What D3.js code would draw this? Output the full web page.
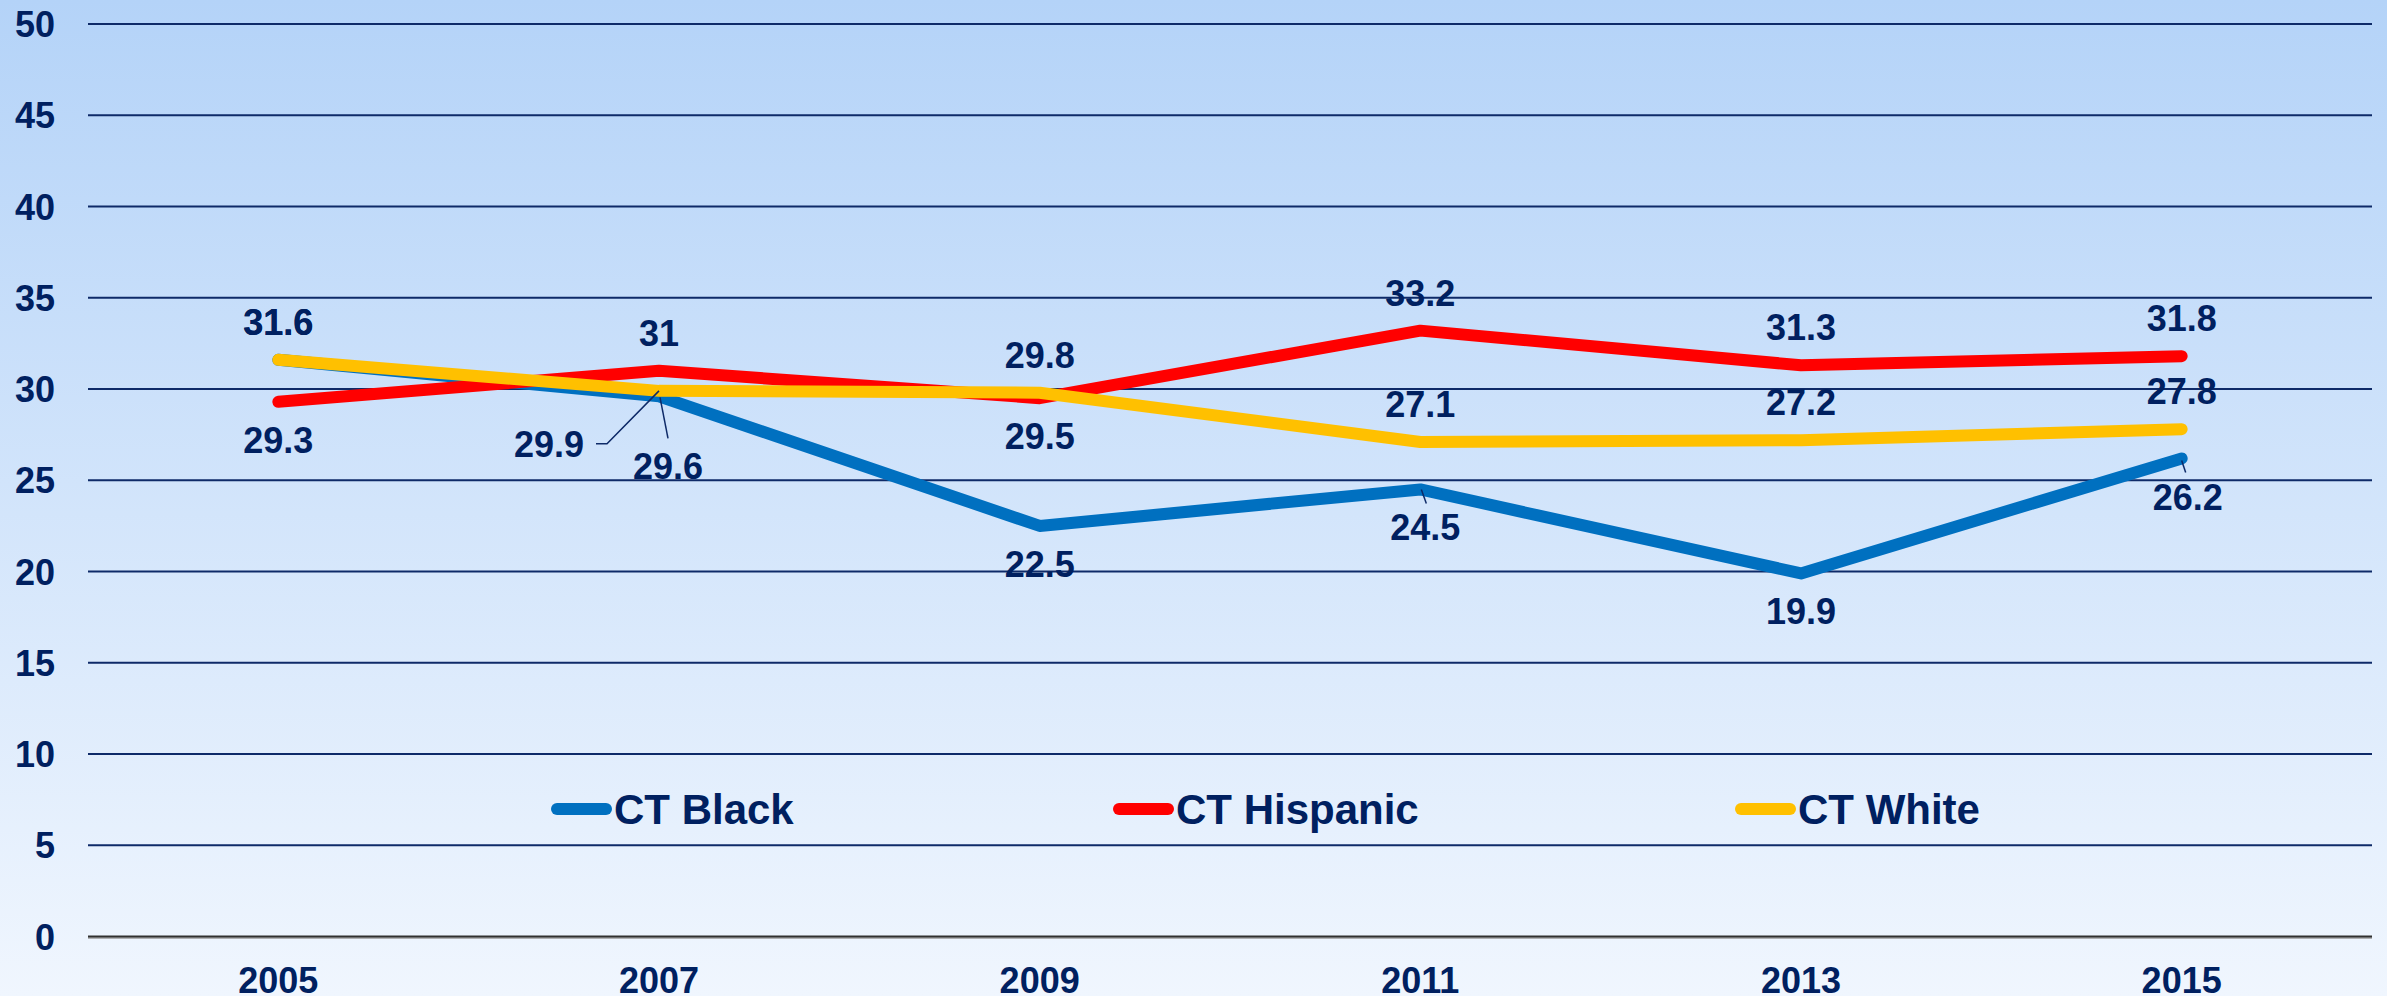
<!DOCTYPE html>
<html>
<head>
<meta charset="utf-8">
<script src="https://cdn.jsdelivr.net/npm/d3@7/dist/d3.min.js"></script>
<style>
  body { margin: 0; }
  text { font-family: "Liberation Sans", Arial, sans-serif; font-weight: bold; fill: #002060; }
</style>
</head>
<body>
<div id="chart"></div>
<script>
// chart data
var years = ["2005", "2007", "2009", "2011", "2013", "2015"];
var seriesNames = ["CT Black", "CT Hispanic", "CT White"];
var ctBlack = [31.6, 29.6, 22.5, 24.5, 19.9, 26.2];
var ctHispanic = [29.3, 31, 29.5, 33.2, 31.3, 31.8];
var ctWhite = [31.6, 29.9, 29.8, 27.1, 27.2, 27.8];
var yTicks = [0, 5, 10, 15, 20, 25, 30, 35, 40, 45, 50];

// which side the value label sits on (1 above, -1 below)
var blackSide = [1, -1, -1, -1, -1, -1];
var hispanicSide = [-1, 1, -1, 1, 1, 1];
var whiteSide = [1, -1, 1, 1, 1, 1];

var width = 2387, height = 996;
var colors = ["#0070C0", "#FF0000", "#FFC000"];

function init() {
    drawChart();
}

function drawChart() {
    var svg = d3.select("#chart")
        .append("svg")
        .attr("width", width)
        .attr("height", height);

    // background gradient
    var grad = svg.append("defs").append("linearGradient")
        .attr("id", "bg").attr("x1", 0).attr("y1", 0).attr("x2", 0).attr("y2", 1);
    grad.append("stop").attr("offset", "0%").attr("stop-color", "#b4d3f8");
    grad.append("stop").attr("offset", "100%").attr("stop-color", "#f0f6fe");
    svg.append("rect").attr("width", width).attr("height", height).attr("fill", "url(#bg)");

    var x = d3.scalePoint()
        .domain(years)
        .range([88, 2372])
        .padding(0.5);

    var y = d3.scaleLinear()
        .domain([0, 50])
        .range([936.6, 24]);

    // gridlines
    svg.append("g").selectAll("line")
        .data(yTicks.filter(function(d) { return d > 0; }))
        .enter().append("line")
        .attr("x1", 88).attr("x2", 2372)
        .attr("y1", function(d) { return y(d); })
        .attr("y2", function(d) { return y(d); })
        .attr("stroke", "#0e2a68")
        .attr("stroke-width", 2);

    // zero axis line
    svg.append("line")
        .attr("x1", 88).attr("x2", 2372)
        .attr("y1", y(0) + 1.5).attr("y2", y(0) + 1.5)
        .attr("stroke", "#9a9a9a").attr("stroke-width", 1.5);
    svg.append("line")
        .attr("x1", 88).attr("x2", 2372)
        .attr("y1", y(0)).attr("y2", y(0))
        .attr("stroke", "#303030").attr("stroke-width", 2);

    // y axis labels
    svg.append("g").selectAll("text")
        .data(yTicks)
        .enter().append("text")
        .attr("x", 55)
        .attr("y", function(d) { return y(d) + 13; })
        .attr("text-anchor", "end")
        .style("font-size", "36px")
        .text(function(d) { return d; });

    // x axis labels
    svg.append("g").selectAll("text")
        .data(years)
        .enter().append("text")
        .attr("x", function(d) { return x(d); })
        .attr("y", 993)
        .attr("text-anchor", "middle")
        .style("font-size", "36px")
        .text(function(d) { return d; });

    var series = [
        {name: seriesNames[0], values: ctBlack, side: blackSide, color: colors[0]},
        {name: seriesNames[1], values: ctHispanic, side: hispanicSide, color: colors[1]},
        {name: seriesNames[2], values: ctWhite, side: whiteSide, color: colors[2]}
    ];

    var line = d3.line()
        .x(function(d, i) { return x(years[i]); })
        .y(function(d) { return y(d); });

    series.forEach(function(s) {
        svg.append("path")
            .datum(s.values)
            .attr("d", line)
            .attr("fill", "none")
            .attr("stroke", s.color)
            .attr("stroke-width", 12)
            .attr("stroke-linecap", "round")
            .attr("stroke-linejoin", "round");
    });

    // labels that were moved off the line, with leader lines
    var moved = {
        "0-1": {dx: 9, dy: 70, leader: [[1, 1], [9, 42]]},
        "2-1": {dx: -110, dy: 53, leader: [[0, 0], [-52, 53], [-63, 53]]},
        "0-3": {dx: 5, dy: 38, leader: [[1, 0], [6, 14]]},
        "0-5": {dx: 6, dy: 39, leader: [[0, 2], [4, 14]]}
    };

    var labels = svg.append("g");
    series.forEach(function(s, si) {
        s.values.forEach(function(v, i) {
            var px = x(years[i]), py = y(v);
            var m = moved[si + "-" + i];
            var cx = px, cy = py - 38 * s.side[i];
            if (m) {
                cx = px + m.dx;
                cy = py + m.dy;
                labels.append("path")
                    .attr("d", d3.line()(m.leader.map(function(p) { return [px + p[0], py + p[1]]; })))
                    .attr("fill", "none")
                    .attr("stroke", "#0e2a68")
                    .attr("stroke-width", 1.5);
            }
            labels.append("text")
                .attr("x", cx)
                .attr("y", cy + 13)
                .attr("text-anchor", "middle")
                .style("font-size", "36px")
                .text(v);
        });
    });

    // legend
    var legendX = [551, 1113, 1735];
    var legend = svg.append("g");
    series.forEach(function(s, i) {
        var g = legend.append("g").attr("transform", "translate(" + legendX[i] + ",809)");
        g.append("line")
            .attr("x1", 6).attr("x2", 55)
            .attr("y1", 0).attr("y2", 0)
            .attr("stroke", s.color)
            .attr("stroke-width", 12)
            .attr("stroke-linecap", "round");
        g.append("text")
            .attr("x", 63)
            .attr("y", 15)
            .style("font-size", "42px")
            .text(s.name);
    });
}

init();
</script>
</body>
</html>
